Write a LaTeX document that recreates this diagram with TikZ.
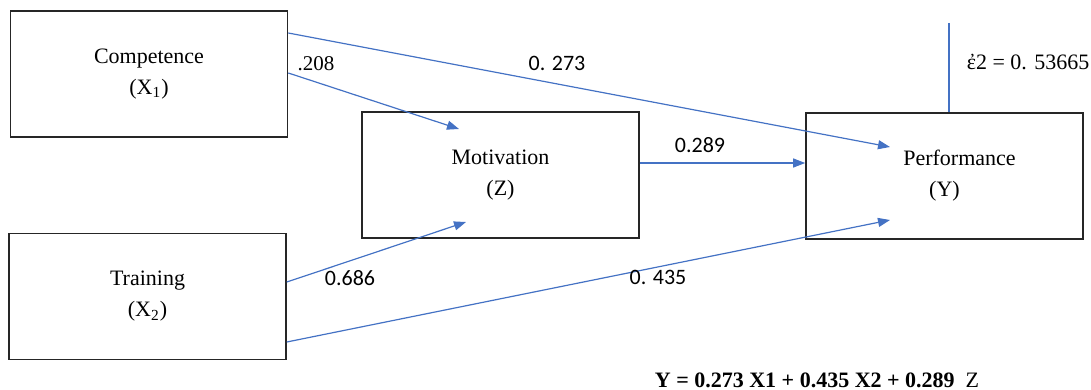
\documentclass[tikz,border=0pt]{standalone}
\usepackage{fontspec}
\setmainfont{Liberation Serif}
\newfontfamily\numfont{Carlito}
\usetikzlibrary{positioning, arrows.meta, calc}
\definecolor{pathblue}{HTML}{4472C4}
\definecolor{boxline}{HTML}{262626}

\begin{document}
\begin{tikzpicture}[
      x=0.5pt, y=-0.5pt,
      every node/.style={font=\fontsize{11}{15.5}\selectfont},
      varbox/.style={draw=boxline, line width=0.8pt, inner sep=0pt,
                  minimum width=138.5pt, minimum height=63pt, align=center},
      path/.style={draw=pathblue, line width=0.6pt, -{Triangle[length=6pt,width=4.5pt]}},
      coef/.style={font=\numfont\fontsize{11}{13}\selectfont, inner sep=0pt},
    ]
    \useasboundingbox (0,0) rectangle (1091,390);

    \node[varbox] (comp) at (149, 74)    {Competence\\(X\textsubscript{1})};
    \node[varbox] (train) at (147.5, 296.5) {Training\\(X\textsubscript{2})};
    \node[varbox] (mot) at (500.5, 175)  {Motivation\\(Z)};
    \node[varbox] (perf) at (944.5, 176) {\hspace*{15pt}Performance\\(Y)};

    % direct and indirect paths
    \draw[path] ([yshift=20.5pt]comp.east) -- ([xshift=-27.25pt,yshift=14.5pt]perf.center);
    \draw[path] ([yshift=0.5pt]comp.east) -- ([xshift=-20.75pt,yshift=23pt]mot.center);
    \draw[path] ([yshift=7.25pt]train.east) -- ([xshift=-17.25pt,yshift=-23.5pt]mot.center);
    \draw[path] ([yshift=-22.75pt]train.east) -- ([xshift=-27.25pt,yshift=-22pt]perf.center);
    \draw[path] ([yshift=6pt]mot.east) -- ([yshift=6.5pt]perf.west);

    % error term
    \coordinate (err) at (949, 23);
    \draw[draw=pathblue, line width=0.6pt] (err) -- (err |- perf.north);

    \node[font=\fontsize{10.5}{13}\selectfont, inner sep=0pt] (c208) at (316, 64) {.208};
    \node[coef] (c273) at (557, 63) {0. 273};
    \node[coef] (c289) at (700, 145) {0.289};
    \node[coef] (c686) at (350, 278) {0.686};
    \node[coef] (c435) at (658, 277) {0. 435};
    \node[inner sep=0pt] (eps) at (1028, 62) {ἐ2 = 0. 53665};

    \node[inner sep=0pt] (eq) at (817, 380) {\textbf{Y = 0.273 X1 + 0.435 X2 + 0.289}~~Z};
  \end{tikzpicture}
\end{document}
